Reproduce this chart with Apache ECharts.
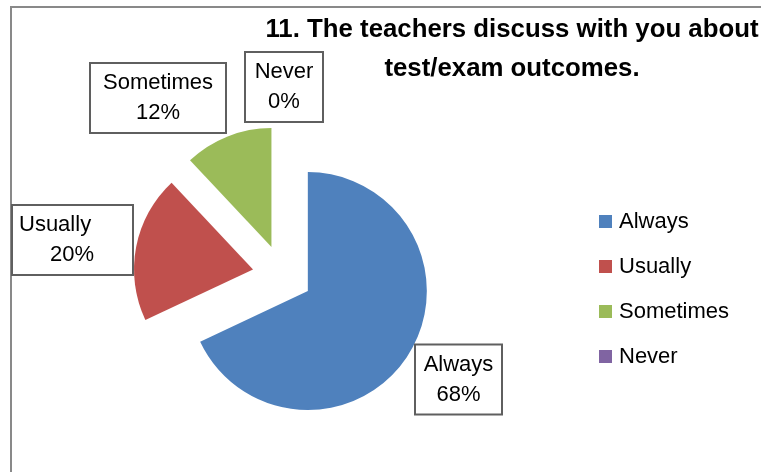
<!DOCTYPE html>
<html><head><meta charset="utf-8">
<script src="https://cdn.jsdelivr.net/npm/echarts@6/dist/echarts.min.js"></script>
<style>html,body{margin:0;padding:0;background:#fff}#c{width:761px;height:472px}</style>
</head><body><div id="c"></div>
<script>
// ---- data ----
const titleLines = ['11. The teachers discuss with you about', 'test/exam outcomes.'];
const categories = ['Always', 'Usually', 'Sometimes', 'Never'];
const values = [68, 20, 12, 0];

// ---- styles / layout (not data) ----
const colors = ['#4F81BD', '#C0504D', '#9BBB59', '#8064A2'];
const labelBoxes = [            // centre of each label box and its outer width
  { x: 458.5, y: 379.5, w: 87, align: 'center' },
  { x: 72.5, y: 240, w: 121, align: 'left' },
  { x: 158, y: 98, w: 136, align: 'center' },
  { x: 284, y: 87, w: 78, align: 'center' }
];
const FONT = 'Liberation Sans';
const PIE_CENTER = [282.5, 275];
const PIE_RADIUS = 119;
const EXPLODE = 30;
const START_ANGLE = 90;
const txt = { fontFamily: FONT, fontSize: 22, lineHeight: 30, color: '#000' };

// explode offset of each slice (labels travel with their slice)
const total = values.reduce((a, b) => a + b, 0);
const sliceOffsets = [];
{
  let acc = 0;
  values.forEach(v => {
    const mid = (START_ANGLE - 360 * (acc + v / 2) / total) * Math.PI / 180;
    sliceOffsets.push([EXPLODE * Math.cos(mid), -EXPLODE * Math.sin(mid)]);
    acc += v;
  });
}

const chart = echarts.init(document.getElementById('c'), null, { renderer: 'canvas' });

const pieData = categories.map((name, i) => {
  const b = labelBoxes[i];
  const label = { width: b.w - 14 };
  if (b.align === 'left') {
    label.formatter = '{l|{b}}\n{p|{d}%}';
  } else {
    label.formatter = '{c|{b}}\n{c|{d}%}';
  }
  return {
    name: name,
    value: values[i],
    selected: true,
    itemStyle: { color: colors[i] },
    label: label
  };
});

chart.setOption({
  animation: false,
  backgroundColor: '#fff',
  title: {
    text: titleLines.join('\n'),
    left: 512,
    top: 10.5,
    padding: 0,
    textAlign: 'center',
    textStyle: { fontFamily: FONT, fontWeight: 'bold', fontSize: 25.8, lineHeight: 39, color: '#000' }
  },
  legend: {
    orient: 'vertical',
    left: 599,
    top: 210.5,
    padding: 0,
    itemWidth: 13,
    itemHeight: 13,
    itemGap: 23,
    icon: 'rect',
    selectedMode: false,
    data: categories,
    textStyle: { fontFamily: FONT, fontSize: 22, lineHeight: 22, color: '#000', padding: [0, 0, 0, 2] }
  },
  graphic: [{
    type: 'rect',
    shape: { x: 11, y: 7, width: 800, height: 520 },
    style: { fill: 'none', stroke: '#898989', lineWidth: 2 },
    silent: true,
    z: -1
  }],
  series: [{
    type: 'pie',
    center: PIE_CENTER,
    radius: PIE_RADIUS,
    startAngle: START_ANGLE,
    clockwise: true,
    selectedMode: 'multiple',
    selectedOffset: EXPLODE,
    avoidLabelOverlap: false,
    emphasis: { disabled: true },
    label: Object.assign({
      show: true,
      position: 'outside',
      formatter: '{b}\n{d}%',
      backgroundColor: '#fff',
      borderColor: '#5f5f5f',
      borderWidth: 2,
      padding: [4, 6],
      rich: {
        c: Object.assign({ align: 'center' }, txt),
        l: Object.assign({ align: 'left' }, txt),
        p: Object.assign({ align: 'left', padding: [0, 0, 0, 31] }, txt)
      }
    }, txt),
    labelLine: { show: false },
    labelLayout: function (params) {
      const i = params.dataIndex;
      const b = labelBoxes[i];
      const r = params.labelRect;
      const off = sliceOffsets[i];
      return {
        dx: b.x - (r.x + r.width / 2) - off[0],
        dy: b.y - (r.y + r.height / 2) - off[1]
      };
    },
    data: pieData
  }]
});
</script></body></html>
